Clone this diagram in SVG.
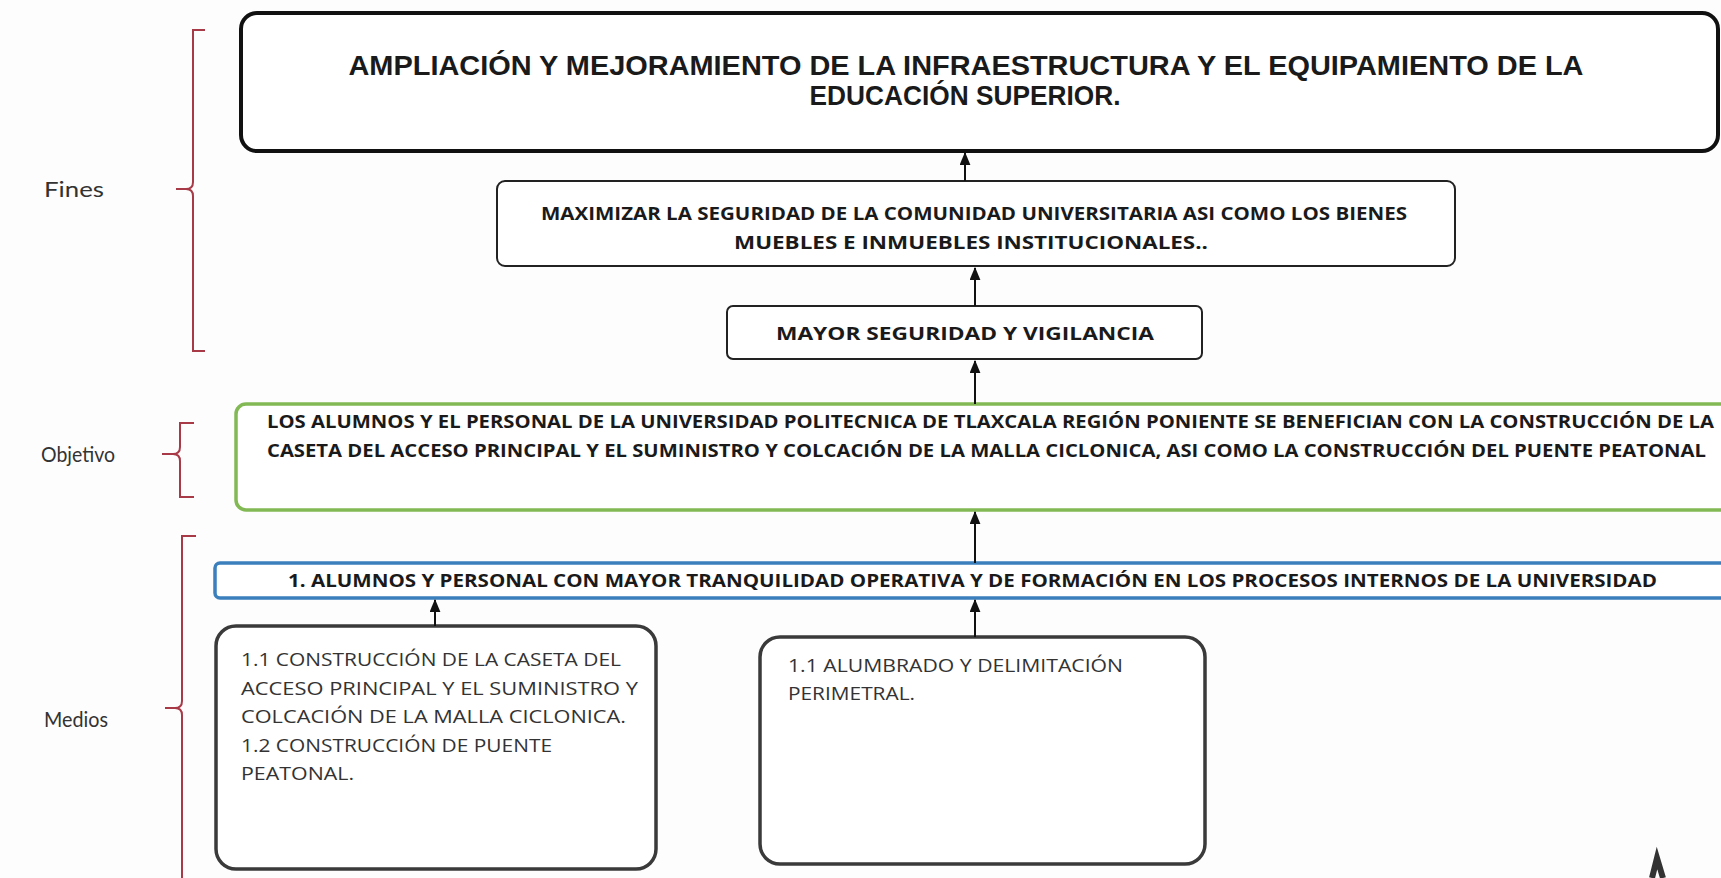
<svg xmlns="http://www.w3.org/2000/svg" width="1721" height="878" viewBox="0 0 1721 878">
<defs>
<marker id="ah" viewBox="0 0 12 10" refX="11" refY="5" markerWidth="13" markerHeight="11" markerUnits="userSpaceOnUse" orient="auto">
<path d="M0,0 L12,5 L0,10 Z" fill="#111"/>
</marker>
<style>
.bg{fill:#fdfdfd}
.br{fill:none;stroke:#a83a48;stroke-width:2}
.lbl{font-family:Lato,"Open Sans","Liberation Sans",sans-serif;font-size:22px;fill:#333}
.top{fill:#fff;stroke:#111;stroke-width:4}
.mid{fill:#fff;stroke:#222;stroke-width:2}
.obj{fill:#fff;stroke:#82b954;stroke-width:3.5}
.blu{fill:#fff;stroke:#3b7fbd;stroke-width:3.5}
.med{fill:#fff;stroke:#3a3a3a;stroke-width:3.5}
.t1{font-family:"Liberation Sans",Arial,sans-serif;font-weight:bold;font-size:28.5px;fill:#1a1a1a;text-anchor:middle}
.tb{font-family:"Open Sans","Liberation Sans",sans-serif;font-weight:bold;font-size:17.5px;fill:#1a1a1a}
.tm{font-family:"Open Sans","Liberation Sans",sans-serif;font-size:17.5px;fill:#333}
.c{text-anchor:middle}
.conn line{stroke:#111;stroke-width:2;marker-end:url(#ah)}
</style>
</defs>
<rect class="bg" x="0" y="0" width="1721" height="878"/>

<g id="label-fines">
<text class="lbl" x="44" y="197" textLength="60" lengthAdjust="spacingAndGlyphs">Fines</text>
<path class="br" d="M205,30 H193 V182 Q193,189 186,189 H176 M186,189 Q193,189 193,196 V351 H205"/>
</g>
<g id="label-objetivo">
<text class="lbl" x="41" y="462" textLength="74" lengthAdjust="spacingAndGlyphs">Objetivo</text>
<path class="br" d="M194,423 H180 V447 Q180,454 173,454 H162 M173,454 Q180,454 180,461 V497 H194"/>
</g>
<g id="label-medios">
<text class="lbl" x="44" y="727" textLength="64" lengthAdjust="spacingAndGlyphs">Medios</text>
<path class="br" d="M196,536 H182 V701 Q182,708 175,708 H165 M175,708 Q182,708 182,715 V880"/>
</g>

<g id="fin-general">
<rect class="top" x="241" y="13" width="1477" height="138" rx="16"/>
<text class="t1" x="966" y="75" textLength="1235" lengthAdjust="spacingAndGlyphs">AMPLIACIÓN Y MEJORAMIENTO DE LA INFRAESTRUCTURA Y EL EQUIPAMIENTO DE LA</text>
<text class="t1" x="965" y="105" textLength="311" lengthAdjust="spacingAndGlyphs">EDUCACIÓN SUPERIOR.</text>
</g>

<g id="fin-maximizar">
<rect class="mid" x="497" y="181" width="958" height="85" rx="8"/>
<text class="tb c" x="974" y="220" textLength="866" lengthAdjust="spacingAndGlyphs">MAXIMIZAR LA SEGURIDAD DE LA COMUNIDAD UNIVERSITARIA ASI COMO LOS BIENES</text>
<text class="tb c" x="971" y="249" textLength="474" lengthAdjust="spacingAndGlyphs">MUEBLES E INMUEBLES INSTITUCIONALES..</text>
</g>

<g id="fin-seguridad">
<rect class="mid" x="727" y="306" width="475" height="53" rx="6"/>
<text class="tb c" x="965" y="340" style="font-size:18.5px" textLength="378" lengthAdjust="spacingAndGlyphs">MAYOR SEGURIDAD Y VIGILANCIA</text>
</g>

<g id="objetivo">
<rect class="obj" x="236" y="404" width="1500" height="106" rx="10"/>
<text class="tb" x="267" y="428" textLength="1447" lengthAdjust="spacingAndGlyphs">LOS ALUMNOS Y EL PERSONAL DE LA UNIVERSIDAD POLITECNICA DE TLAXCALA REGIÓN PONIENTE SE BENEFICIAN CON LA CONSTRUCCIÓN DE LA</text>
<text class="tb" x="267" y="457" textLength="1439" lengthAdjust="spacingAndGlyphs">CASETA DEL ACCESO PRINCIPAL Y EL SUMINISTRO Y COLCACIÓN DE LA MALLA CICLONICA, ASI COMO LA CONSTRUCCIÓN DEL PUENTE PEATONAL</text>
</g>

<g id="componente">
<rect class="blu" x="215" y="563" width="1520" height="35" rx="5"/>
<text class="tb" x="288" y="587" textLength="1369" lengthAdjust="spacingAndGlyphs">1. ALUMNOS Y PERSONAL CON MAYOR TRANQUILIDAD OPERATIVA Y DE FORMACIÓN EN LOS PROCESOS INTERNOS DE LA UNIVERSIDAD</text>
</g>

<g id="actividad-1">
<rect class="med" x="216" y="626" width="440" height="243" rx="20"/>
<text class="tm" x="241" y="666" textLength="380" lengthAdjust="spacingAndGlyphs">1.1 CONSTRUCCIÓN DE LA CASETA DEL</text>
<text class="tm" x="241" y="695" textLength="397" lengthAdjust="spacingAndGlyphs">ACCESO PRINCIPAL Y EL SUMINISTRO Y</text>
<text class="tm" x="241" y="723" textLength="385" lengthAdjust="spacingAndGlyphs">COLCACIÓN DE LA MALLA CICLONICA.</text>
<text class="tm" x="241" y="752" textLength="311" lengthAdjust="spacingAndGlyphs">1.2 CONSTRUCCIÓN DE PUENTE</text>
<text class="tm" x="241" y="780" textLength="113" lengthAdjust="spacingAndGlyphs">PEATONAL.</text>
</g>

<g id="actividad-2">
<rect class="med" x="760" y="637" width="445" height="227" rx="20"/>
<text class="tm" x="788" y="672" textLength="335" lengthAdjust="spacingAndGlyphs">1.1 ALUMBRADO Y DELIMITACIÓN</text>
<text class="tm" x="788" y="700" textLength="127" lengthAdjust="spacingAndGlyphs">PERIMETRAL.</text>
</g>

<g id="connectors" class="conn">
<line x1="965" y1="181" x2="965" y2="153"/>
<line x1="975" y1="306" x2="975" y2="268"/>
<line x1="975" y1="404" x2="975" y2="361"/>
<line x1="975" y1="563" x2="975" y2="512"/>
<line x1="975" y1="637" x2="975" y2="600"/>
<line x1="435" y1="626" x2="435" y2="600"/>
</g>

<g id="mark">
<path d="M1652,878 L1657,858 L1663,878" fill="none" stroke="#333" stroke-width="6"/>
</g>
</svg>
